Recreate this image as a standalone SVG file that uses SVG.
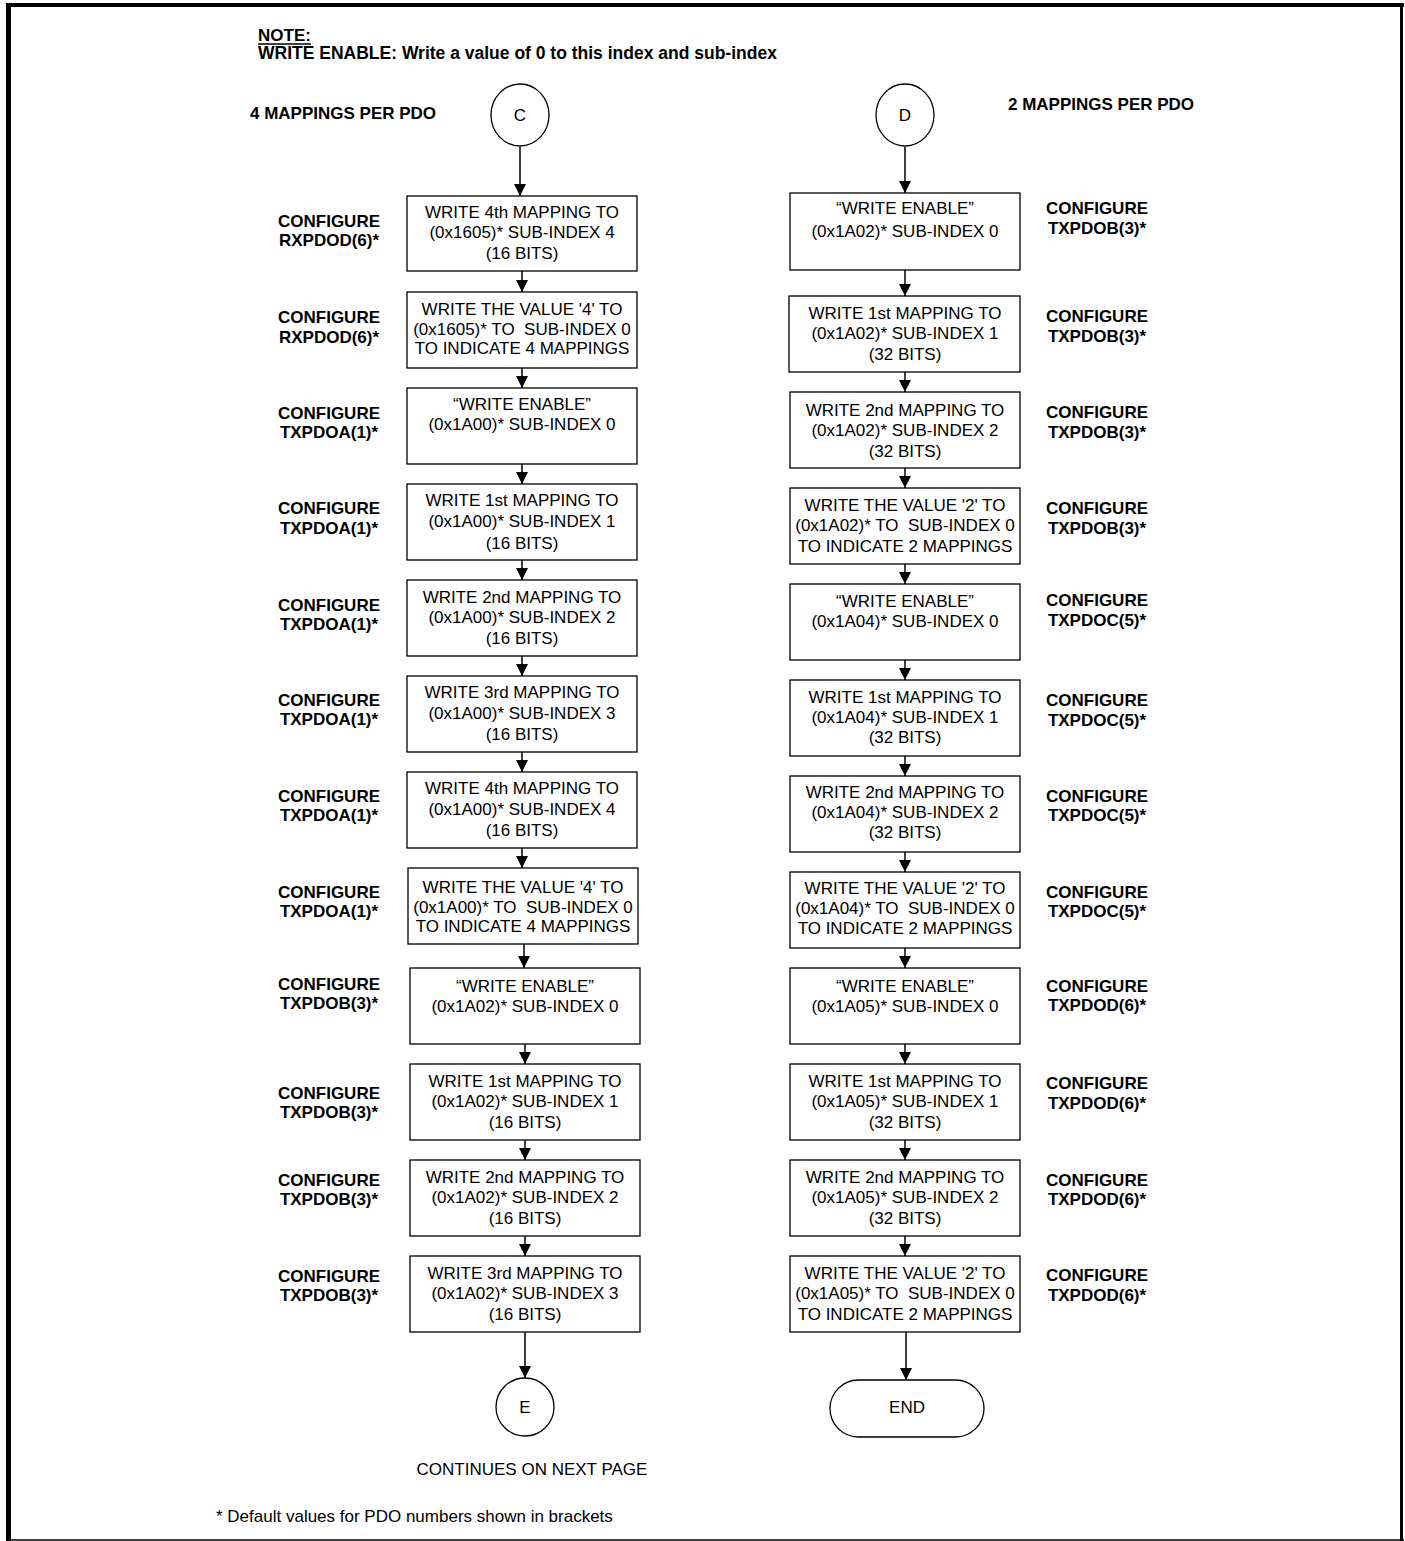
<svg xmlns="http://www.w3.org/2000/svg" width="1405" height="1541" viewBox="0 0 1405 1541">
<style>
.box{fill:#fff;stroke:#000;stroke-width:1.3}
.t{font-family:"Liberation Sans",Arial,sans-serif;font-size:17px;text-anchor:middle;fill:#000;white-space:pre}
.b{font-weight:bold}
.h{font-family:"Liberation Sans",Arial,sans-serif;font-size:17px;font-weight:bold;fill:#000}
.c{stroke:#000;stroke-width:1.5;fill:none;marker-end:url(#ah)}
.fr{stroke:#000;fill:none}
</style>
<defs>
<marker id="ah" markerUnits="userSpaceOnUse" markerWidth="13" markerHeight="13" refX="12" refY="6" orient="auto">
<path d="M0,0 L12,6 L0,12 z" fill="#000"/>
</marker>
</defs>
<rect width="1405" height="1541" fill="#fff"/>
<g id="frame">
<line class="fr" x1="6" y1="5" x2="1404" y2="5" stroke-width="4"/>
<line class="fr" x1="8.5" y1="3" x2="8.5" y2="1541" stroke-width="5"/>
<line class="fr" x1="1401.5" y1="3" x2="1401.5" y2="1541" stroke-width="3"/>
<line class="fr" x1="6" y1="1540" x2="1404" y2="1540" stroke-width="1.5"/>
</g>
<g id="note">
<text class="h" x="258" y="41">NOTE:</text>
<line x1="258" y1="44" x2="311" y2="44" stroke="#000" stroke-width="1.3"/>
<text class="h" x="258" y="59" style="font-size:17.5px">WRITE ENABLE: Write a value of 0 to this index and sub-index</text>
<text class="h" x="250" y="119">4 MAPPINGS PER PDO</text>
<text class="h" x="1008" y="110">2 MAPPINGS PER PDO</text>
</g>
<g id="connectors">
<line class="c" x1="520" y1="147" x2="520" y2="196"/>
<line class="c" x1="522" y1="271" x2="522" y2="292"/>
<line class="c" x1="522" y1="368" x2="522" y2="388"/>
<line class="c" x1="522" y1="464" x2="522" y2="484"/>
<line class="c" x1="522" y1="560" x2="522" y2="580"/>
<line class="c" x1="522" y1="656" x2="522" y2="676"/>
<line class="c" x1="522" y1="752" x2="522" y2="772"/>
<line class="c" x1="522" y1="848" x2="522" y2="868"/>
<line class="c" x1="524" y1="944" x2="524" y2="968"/>
<line class="c" x1="525" y1="1044" x2="525" y2="1064"/>
<line class="c" x1="525" y1="1140" x2="525" y2="1160"/>
<line class="c" x1="525" y1="1236" x2="525" y2="1256"/>
<line class="c" x1="525" y1="1332" x2="525" y2="1378"/>
<line class="c" x1="905" y1="147" x2="905" y2="193"/>
<line class="c" x1="905" y1="270" x2="905" y2="296"/>
<line class="c" x1="905" y1="372" x2="905" y2="392"/>
<line class="c" x1="905" y1="468" x2="905" y2="488"/>
<line class="c" x1="905" y1="564" x2="905" y2="584"/>
<line class="c" x1="905" y1="660" x2="905" y2="680"/>
<line class="c" x1="905" y1="756" x2="905" y2="776"/>
<line class="c" x1="905" y1="852" x2="905" y2="872"/>
<line class="c" x1="905" y1="948" x2="905" y2="968"/>
<line class="c" x1="905" y1="1044" x2="905" y2="1064"/>
<line class="c" x1="905" y1="1140" x2="905" y2="1160"/>
<line class="c" x1="905" y1="1236" x2="905" y2="1256"/>
<line class="c" x1="906" y1="1332" x2="906" y2="1380"/>
</g>
<g id="C"><ellipse class="box" cx="520" cy="115" rx="29" ry="31"/><text class="t" x="520" y="121">C</text></g>
<g id="D"><ellipse class="box" cx="905" cy="115" rx="29" ry="31"/><text class="t" x="905" y="121">D</text></g>
<g id="E"><circle class="box" cx="525" cy="1407" r="29"/><text class="t" x="525" y="1413">E</text></g>
<g id="END"><rect class="box" x="830" y="1380" width="154" height="57" rx="28.5"/><text class="t" x="907" y="1413">END</text></g>

<g id="L1"><rect class="box" x="407" y="196" width="230" height="75"/><text class="t" x="522" y="218">WRITE 4th MAPPING TO</text><text class="t" x="522" y="238">(0x1605)* SUB-INDEX 4</text><text class="t" x="522" y="259">(16 BITS)</text></g>
<g id="L2"><rect class="box" x="407" y="292" width="230" height="76"/><text class="t" x="522" y="315">WRITE THE VALUE '4' TO</text><text class="t" x="522" y="335">(0x1605)* TO  SUB-INDEX 0</text><text class="t" x="522" y="354">TO INDICATE 4 MAPPINGS</text></g>
<g id="L3"><rect class="box" x="407" y="388" width="230" height="76"/><text class="t" x="522" y="410">“WRITE ENABLE”</text><text class="t" x="522" y="430">(0x1A00)* SUB-INDEX 0</text></g>
<g id="L4"><rect class="box" x="407" y="484" width="230" height="76"/><text class="t" x="522" y="506">WRITE 1st MAPPING TO</text><text class="t" x="522" y="527">(0x1A00)* SUB-INDEX 1</text><text class="t" x="522" y="549">(16 BITS)</text></g>
<g id="L5"><rect class="box" x="407" y="580" width="230" height="76"/><text class="t" x="522" y="603">WRITE 2nd MAPPING TO</text><text class="t" x="522" y="623">(0x1A00)* SUB-INDEX 2</text><text class="t" x="522" y="644">(16 BITS)</text></g>
<g id="L6"><rect class="box" x="407" y="676" width="230" height="76"/><text class="t" x="522" y="698">WRITE 3rd MAPPING TO</text><text class="t" x="522" y="719">(0x1A00)* SUB-INDEX 3</text><text class="t" x="522" y="740">(16 BITS)</text></g>
<g id="L7"><rect class="box" x="407" y="772" width="230" height="76"/><text class="t" x="522" y="794">WRITE 4th MAPPING TO</text><text class="t" x="522" y="815">(0x1A00)* SUB-INDEX 4</text><text class="t" x="522" y="836">(16 BITS)</text></g>
<g id="L8"><rect class="box" x="408" y="868" width="230" height="76"/><text class="t" x="523" y="893">WRITE THE VALUE '4' TO</text><text class="t" x="523" y="913">(0x1A00)* TO  SUB-INDEX 0</text><text class="t" x="523" y="932">TO INDICATE 4 MAPPINGS</text></g>
<g id="L9"><rect class="box" x="410" y="968" width="230" height="76"/><text class="t" x="525" y="992">“WRITE ENABLE”</text><text class="t" x="525" y="1012">(0x1A02)* SUB-INDEX 0</text></g>
<g id="L10"><rect class="box" x="410" y="1064" width="230" height="76"/><text class="t" x="525" y="1087">WRITE 1st MAPPING TO</text><text class="t" x="525" y="1107">(0x1A02)* SUB-INDEX 1</text><text class="t" x="525" y="1128">(16 BITS)</text></g>
<g id="L11"><rect class="box" x="410" y="1160" width="230" height="76"/><text class="t" x="525" y="1183">WRITE 2nd MAPPING TO</text><text class="t" x="525" y="1203">(0x1A02)* SUB-INDEX 2</text><text class="t" x="525" y="1224">(16 BITS)</text></g>
<g id="L12"><rect class="box" x="410" y="1256" width="230" height="76"/><text class="t" x="525" y="1279">WRITE 3rd MAPPING TO</text><text class="t" x="525" y="1299">(0x1A02)* SUB-INDEX 3</text><text class="t" x="525" y="1320">(16 BITS)</text></g>

<g id="R1"><rect class="box" x="790" y="193" width="230" height="77"/><text class="t" x="905" y="214">“WRITE ENABLE”</text><text class="t" x="905" y="237">(0x1A02)* SUB-INDEX 0</text></g>
<g id="R2"><rect class="box" x="789" y="296" width="231" height="76"/><text class="t" x="905" y="319">WRITE 1st MAPPING TO</text><text class="t" x="905" y="339">(0x1A02)* SUB-INDEX 1</text><text class="t" x="905" y="360">(32 BITS)</text></g>
<g id="R3"><rect class="box" x="790" y="392" width="230" height="76"/><text class="t" x="905" y="416">WRITE 2nd MAPPING TO</text><text class="t" x="905" y="436">(0x1A02)* SUB-INDEX 2</text><text class="t" x="905" y="457">(32 BITS)</text></g>
<g id="R4"><rect class="box" x="790" y="488" width="230" height="76"/><text class="t" x="905" y="511">WRITE THE VALUE '2' TO</text><text class="t" x="905" y="531">(0x1A02)* TO  SUB-INDEX 0</text><text class="t" x="905" y="552">TO INDICATE 2 MAPPINGS</text></g>
<g id="R5"><rect class="box" x="790" y="584" width="230" height="76"/><text class="t" x="905" y="607">“WRITE ENABLE”</text><text class="t" x="905" y="627">(0x1A04)* SUB-INDEX 0</text></g>
<g id="R6"><rect class="box" x="790" y="680" width="230" height="76"/><text class="t" x="905" y="703">WRITE 1st MAPPING TO</text><text class="t" x="905" y="723">(0x1A04)* SUB-INDEX 1</text><text class="t" x="905" y="743">(32 BITS)</text></g>
<g id="R7"><rect class="box" x="790" y="776" width="230" height="76"/><text class="t" x="905" y="798">WRITE 2nd MAPPING TO</text><text class="t" x="905" y="818">(0x1A04)* SUB-INDEX 2</text><text class="t" x="905" y="838">(32 BITS)</text></g>
<g id="R8"><rect class="box" x="790" y="872" width="230" height="76"/><text class="t" x="905" y="894">WRITE THE VALUE '2' TO</text><text class="t" x="905" y="914">(0x1A04)* TO  SUB-INDEX 0</text><text class="t" x="905" y="934">TO INDICATE 2 MAPPINGS</text></g>
<g id="R9"><rect class="box" x="790" y="968" width="230" height="76"/><text class="t" x="905" y="992">“WRITE ENABLE”</text><text class="t" x="905" y="1012">(0x1A05)* SUB-INDEX 0</text></g>
<g id="R10"><rect class="box" x="790" y="1064" width="230" height="76"/><text class="t" x="905" y="1087">WRITE 1st MAPPING TO</text><text class="t" x="905" y="1107">(0x1A05)* SUB-INDEX 1</text><text class="t" x="905" y="1128">(32 BITS)</text></g>
<g id="R11"><rect class="box" x="790" y="1160" width="230" height="76"/><text class="t" x="905" y="1183">WRITE 2nd MAPPING TO</text><text class="t" x="905" y="1203">(0x1A05)* SUB-INDEX 2</text><text class="t" x="905" y="1224">(32 BITS)</text></g>
<g id="R12"><rect class="box" x="790" y="1256" width="230" height="76"/><text class="t" x="905" y="1279">WRITE THE VALUE '2' TO</text><text class="t" x="905" y="1299">(0x1A05)* TO  SUB-INDEX 0</text><text class="t" x="905" y="1320">TO INDICATE 2 MAPPINGS</text></g>

<g id="left-labels">
<text class="t b" x="329" y="227">CONFIGURE</text><text class="t b" x="329" y="246">RXPDOD(6)*</text>
<text class="t b" x="329" y="323">CONFIGURE</text><text class="t b" x="329" y="343">RXPDOD(6)*</text>
<text class="t b" x="329" y="419">CONFIGURE</text><text class="t b" x="329" y="438">TXPDOA(1)*</text>
<text class="t b" x="329" y="514">CONFIGURE</text><text class="t b" x="329" y="534">TXPDOA(1)*</text>
<text class="t b" x="329" y="611">CONFIGURE</text><text class="t b" x="329" y="630">TXPDOA(1)*</text>
<text class="t b" x="329" y="706">CONFIGURE</text><text class="t b" x="329" y="725">TXPDOA(1)*</text>
<text class="t b" x="329" y="802">CONFIGURE</text><text class="t b" x="329" y="821">TXPDOA(1)*</text>
<text class="t b" x="329" y="898">CONFIGURE</text><text class="t b" x="329" y="917">TXPDOA(1)*</text>
<text class="t b" x="329" y="990">CONFIGURE</text><text class="t b" x="329" y="1009">TXPDOB(3)*</text>
<text class="t b" x="329" y="1099">CONFIGURE</text><text class="t b" x="329" y="1118">TXPDOB(3)*</text>
<text class="t b" x="329" y="1186">CONFIGURE</text><text class="t b" x="329" y="1205">TXPDOB(3)*</text>
<text class="t b" x="329" y="1282">CONFIGURE</text><text class="t b" x="329" y="1301">TXPDOB(3)*</text>
</g>
<g id="right-labels">
<text class="t b" x="1097" y="214">CONFIGURE</text><text class="t b" x="1097" y="234">TXPDOB(3)*</text>
<text class="t b" x="1097" y="322">CONFIGURE</text><text class="t b" x="1097" y="342">TXPDOB(3)*</text>
<text class="t b" x="1097" y="418">CONFIGURE</text><text class="t b" x="1097" y="438">TXPDOB(3)*</text>
<text class="t b" x="1097" y="514">CONFIGURE</text><text class="t b" x="1097" y="534">TXPDOB(3)*</text>
<text class="t b" x="1097" y="606">CONFIGURE</text><text class="t b" x="1097" y="626">TXPDOC(5)*</text>
<text class="t b" x="1097" y="706">CONFIGURE</text><text class="t b" x="1097" y="726">TXPDOC(5)*</text>
<text class="t b" x="1097" y="802">CONFIGURE</text><text class="t b" x="1097" y="821">TXPDOC(5)*</text>
<text class="t b" x="1097" y="898">CONFIGURE</text><text class="t b" x="1097" y="917">TXPDOC(5)*</text>
<text class="t b" x="1097" y="992">CONFIGURE</text><text class="t b" x="1097" y="1011">TXPDOD(6)*</text>
<text class="t b" x="1097" y="1089">CONFIGURE</text><text class="t b" x="1097" y="1109">TXPDOD(6)*</text>
<text class="t b" x="1097" y="1186">CONFIGURE</text><text class="t b" x="1097" y="1205">TXPDOD(6)*</text>
<text class="t b" x="1097" y="1281">CONFIGURE</text><text class="t b" x="1097" y="1301">TXPDOD(6)*</text>
</g>
<g id="footer">
<text class="t" x="532" y="1475">CONTINUES ON NEXT PAGE</text>
<text class="t" x="216" y="1522" style="text-anchor:start">* Default values for PDO numbers shown in brackets</text>
</g>
</svg>
